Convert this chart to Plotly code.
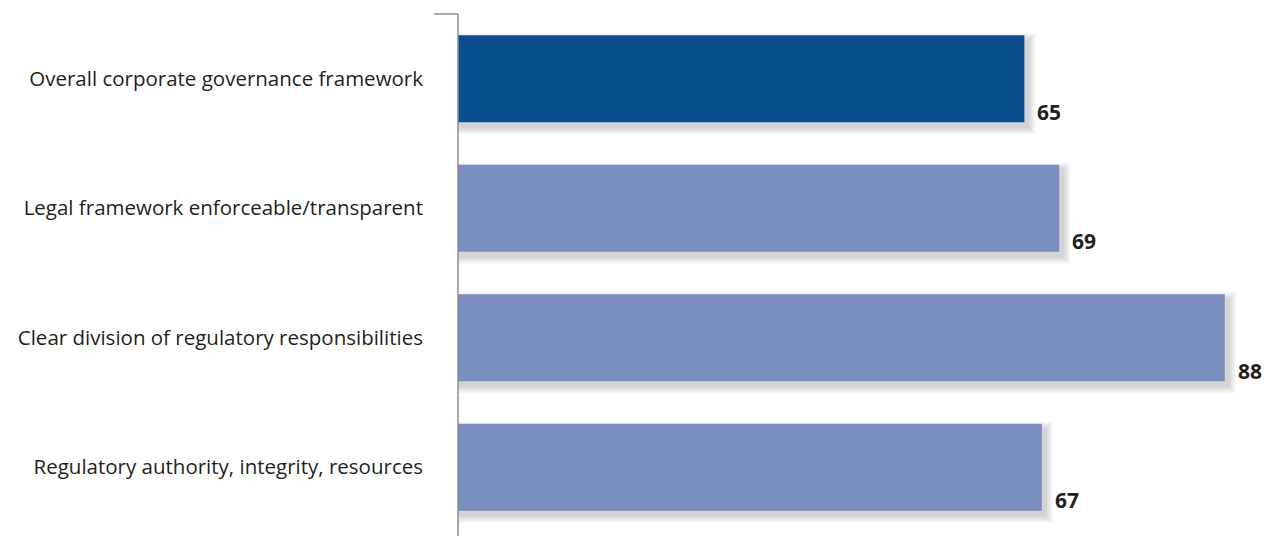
import plotly.graph_objects as go

categories = [
    "Overall corporate governance framework",
    "Legal framework enforceable/transparent",
    "Clear division of regulatory responsibilities",
    "Regulatory authority, integrity, resources",
]
values = [65, 69, 88, 67]
bar_colors = ["#0b4e8e", "#7a8ec0", "#7a8ec0", "#7a8ec0"]

W, H = 1270, 536
L, R, T, B = 458, 6, 14, 4
XMAX = 92.5
plot_w = W - L - R
plot_h = H - T - B
px_x = XMAX / plot_w            # data units per pixel (x)
px_y = len(categories) / plot_h  # category units per pixel (y)
BAR_W = 0.67

fig = go.Figure()

# soft drop shadow: several expanding translucent layers
dx, dy = 4, 5
for s in [7, 5, 3, 1]:
    w = BAR_W + 2 * s * px_y
    fig.add_trace(go.Bar(
        y=categories, x=[v + (dx + s) * px_x for v in values], orientation="h",
        marker=dict(color="rgba(0,0,0,0.045)", line=dict(width=0)),
        width=w, offset=-w / 2 + dy * px_y,
        hoverinfo="skip", showlegend=False,
    ))

fig.add_trace(go.Bar(
    y=categories, x=values, orientation="h",
    marker=dict(color=bar_colors, line=dict(width=0)),
    width=BAR_W, offset=-BAR_W / 2,
    showlegend=False,
))

for c, v in zip(categories, values):
    fig.add_annotation(
        x=v, y=c, text=f"<b>{v}</b>", showarrow=False,
        xanchor="left", yanchor="middle", xshift=11, yshift=-33,
        font=dict(family="Open Sans", size=21, color="#231f20"),
    )

# top tick and axis line extending to the bottom edge
fig.add_shape(type="line", xref="paper", yref="paper",
              x0=-24 / plot_w, x1=0, y0=1, y1=1,
              line=dict(color="#8c8c8c", width=1.5))
fig.add_shape(type="line", xref="paper", yref="paper",
              x0=0, x1=0, y0=-B / plot_h, y1=1,
              line=dict(color="#8c8c8c", width=1.5))

fig.update_layout(
    width=W, height=H,
    margin=dict(l=L, r=R, t=T, b=B),
    barmode="overlay",
    paper_bgcolor="white", plot_bgcolor="white",
    xaxis=dict(range=[0, XMAX], visible=False, showgrid=False, zeroline=False),
    yaxis=dict(
        autorange="reversed", showgrid=False, zeroline=False,
        showline=False,
        ticks="", ticklabelstandoff=34,
        tickfont=dict(family="Open Sans", size=20.5, color="#231f20"),
    ),
)

fig.write_html("out.html")
